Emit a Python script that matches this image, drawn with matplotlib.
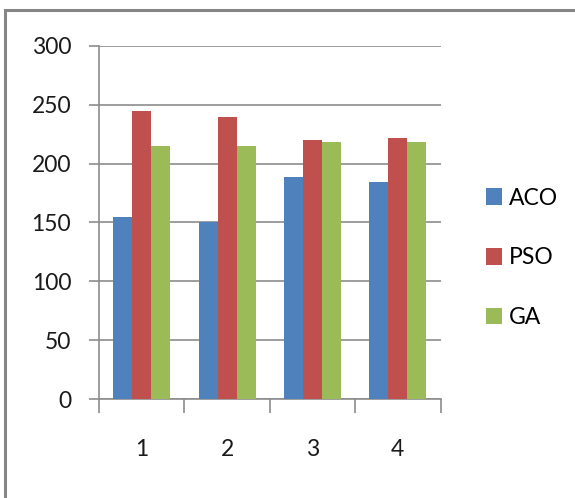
import matplotlib
matplotlib.use("Agg")
import matplotlib.pyplot as plt
import numpy as np
from matplotlib.patches import Rectangle

plt.rcParams['font.family'] = ['Lato', 'DejaVu Sans']

categories = ["1", "2", "3", "4"]
aco = [155, 150, 189, 184]
pso = [245, 240, 220, 222]
ga = [215, 215, 218, 218]
series_names = ["ACO", "PSO", "GA"]
colors = ["#4F81BD", "#C0504D", "#9BBB59"]
y_ticks = [0, 50, 100, 150, 200, 250, 300]

fig = plt.figure(figsize=(5.75, 4.98), dpi=100)
fig.patch.set_facecolor("white")

# outer chart frame
frame = Rectangle((5 / 575, -0.05), 1.1, 1 - 10.5 / 498 + 0.05,
                  transform=fig.transFigure, fill=False,
                  edgecolor="#868686", linewidth=2.2, zorder=0)
fig.add_artist(frame)

ax = fig.add_axes([99 / 575, 1 - 399 / 498, (440.5 - 99) / 575, (399 - 46) / 498])

x = np.arange(len(categories))
bw = 1 / 4.5
for i, (vals, name, c) in enumerate(zip([aco, pso, ga], series_names, colors)):
    ax.bar(x + (i - 1) * bw, vals, width=bw, color=c, label=name, zorder=3)

ax.set_xlim(-0.5, len(categories) - 0.5)
ax.set_ylim(0, 300)
ax.set_yticks(y_ticks)
ax.set_yticklabels([str(v) for v in y_ticks], fontsize=16.5, color="#1a1a1a")
ax.set_xticks(x)
ax.set_xticklabels(categories, fontsize=16.5, color="#1a1a1a")
ax.set_xticks(np.arange(len(categories) + 1) - 0.5, minor=True)

ax.grid(axis="y", color="#8c8c8c", linewidth=1.2, zorder=0)
for side in ["top", "right"]:
    ax.spines[side].set_visible(False)
for side in ["left", "bottom"]:
    ax.spines[side].set_color("#8c8c8c")
    ax.spines[side].set_linewidth(1.2)

ax.tick_params(axis="y", length=7, width=1.2, color="#8c8c8c", pad=13)
ax.tick_params(axis="x", which="major", length=0, pad=29)
ax.tick_params(axis="x", which="minor", length=10, width=1.2, color="#8c8c8c")

fig.legend(loc="center left", bbox_to_anchor=(477 / 575, 1 - 258 / 498),
           frameon=False, fontsize=16.5, handlelength=0.7, handleheight=0.7,
           handletextpad=0.3, labelspacing=1.7, borderaxespad=0)

fig.savefig("out.png", dpi=100)
